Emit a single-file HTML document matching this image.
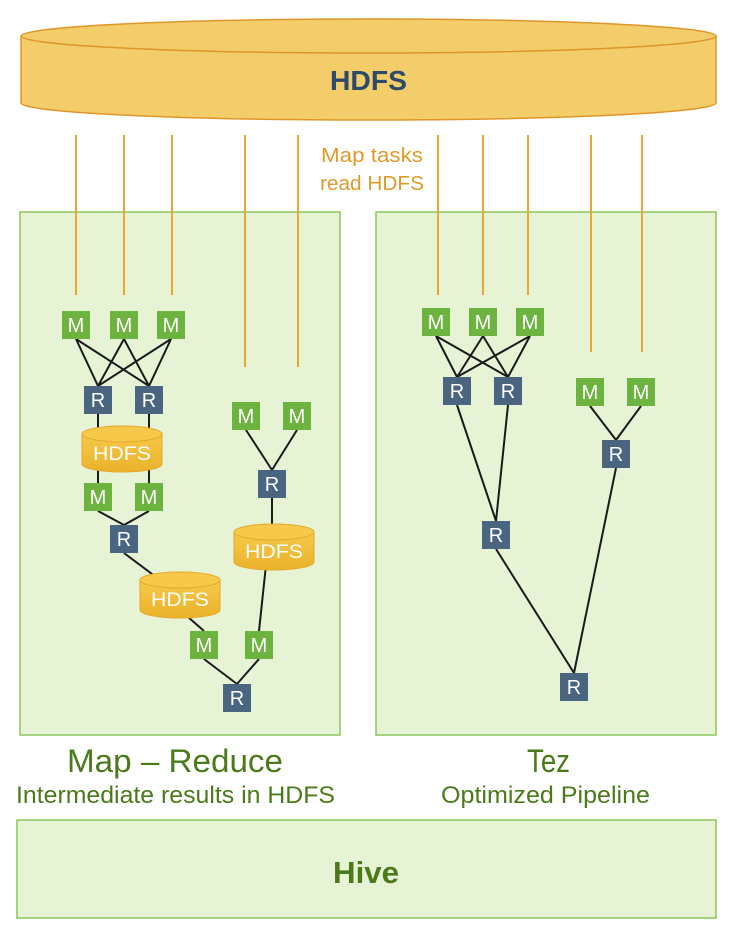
<!DOCTYPE html>
<html><head><meta charset="utf-8"><style>body{margin:0;background:#fff}svg{display:block}text{font-family:"Liberation Sans",sans-serif}</style></head><body>
<svg width="731" height="934" viewBox="0 0 731 934" xmlns="http://www.w3.org/2000/svg">
<defs>
<linearGradient id="cy" x1="0" y1="0" x2="0" y2="1"><stop offset="0" stop-color="#f6c94a"/><stop offset="1" stop-color="#eab22a"/></linearGradient>
</defs>
<path d="M21 36 L21 103 A347.5 17 0 0 0 716 103 L716 36 Z" fill="#f2cd6a" stroke="#e0952a" stroke-width="1.5"/>
<ellipse cx="368.5" cy="36" rx="347.5" ry="17" fill="#f2cd6a" stroke="#e0952a" stroke-width="1.5"/>
<text x="330" y="90" font-size="28" font-weight="bold" fill="#2e4a6b" textLength="77" lengthAdjust="spacingAndGlyphs">HDFS</text>
<rect x="20" y="212" width="320" height="523" fill="#e6f3d4" stroke="#8cc65a" stroke-width="1.5"/>
<rect x="376" y="212" width="340" height="523" fill="#e6f3d4" stroke="#8cc65a" stroke-width="1.5"/>
<rect x="17" y="820" width="699" height="98" fill="#e6f3d4" stroke="#8cc65a" stroke-width="1.5"/>
<g stroke="#e8a832" stroke-width="2">
<line x1="76" y1="135" x2="76" y2="295"/><line x1="124" y1="135" x2="124" y2="295"/><line x1="172" y1="135" x2="172" y2="295"/>
<line x1="245" y1="135" x2="245" y2="367"/><line x1="298" y1="135" x2="298" y2="367"/>
<line x1="438" y1="135" x2="438" y2="295"/><line x1="483" y1="135" x2="483" y2="295"/><line x1="528" y1="135" x2="528" y2="295"/>
<line x1="591" y1="135" x2="591" y2="352"/><line x1="642" y1="135" x2="642" y2="352"/>
</g>
<text x="321" y="162" font-size="20" fill="#e09a2a" textLength="102" lengthAdjust="spacingAndGlyphs">Map tasks</text>
<text x="320" y="190" font-size="20" fill="#e09a2a" textLength="104" lengthAdjust="spacingAndGlyphs">read HDFS</text>
<g stroke="#1a1a1a" stroke-width="2" fill="none">
<path d="M76 339L98 386M76 339L149 386M124 339L98 386M124 339L149 386M171 339L98 386M171 339L149 386"/>
<path d="M98 414V483M149 414V483M98 511L124 525M149 511L124 525M124 553L160 580M180 610L204 631M204 659L237 684M259 659L237 684M259 631L266 565M272 498V530M246 430L272 470M297 430L272 470"/>
<path d="M436 336L457 377M436 336L508 377M483 336L457 377M483 336L508 377M530 336L457 377M530 336L508 377"/>
<path d="M457 405L496 521M508 405L496 521M496 549L574 673M616 468L574 673M590 406L616 440M641 406L616 440"/>
</g>
<g>
<path d="M82 434V464A40 8 0 0 0 162 464V434Z" fill="url(#cy)" stroke="#e6a82a"/>
<ellipse cx="122" cy="434" rx="40" ry="8" fill="#f6c94a" stroke="#e6a82a"/>
<text x="93" y="460" font-size="19" fill="#fff" textLength="58" lengthAdjust="spacingAndGlyphs">HDFS</text>
<path d="M140 580V610A40 8 0 0 0 220 610V580Z" fill="url(#cy)" stroke="#e6a82a"/>
<ellipse cx="180" cy="580" rx="40" ry="8" fill="#f6c94a" stroke="#e6a82a"/>
<text x="151" y="606" font-size="19" fill="#fff" textLength="58" lengthAdjust="spacingAndGlyphs">HDFS</text>
<path d="M234 532V562A40 8 0 0 0 314 562V532Z" fill="url(#cy)" stroke="#e6a82a"/>
<ellipse cx="274" cy="532" rx="40" ry="8" fill="#f6c94a" stroke="#e6a82a"/>
<text x="245" y="558" font-size="19" fill="#fff" textLength="58" lengthAdjust="spacingAndGlyphs">HDFS</text>
</g>
<g fill="#6db33f">
<rect x="62" y="311" width="28" height="28"/><rect x="110" y="311" width="28" height="28"/><rect x="157" y="311" width="28" height="28"/>
<rect x="84" y="483" width="28" height="28"/><rect x="135" y="483" width="28" height="28"/>
<rect x="190" y="631" width="28" height="28"/><rect x="245" y="631" width="28" height="28"/>
<rect x="232" y="402" width="28" height="28"/><rect x="283" y="402" width="28" height="28"/>
<rect x="422" y="308" width="28" height="28"/><rect x="469" y="308" width="28" height="28"/><rect x="516" y="308" width="28" height="28"/>
<rect x="576" y="378" width="28" height="28"/><rect x="627" y="378" width="28" height="28"/>
</g>
<g fill="#4a6580">
<rect x="84" y="386" width="28" height="28"/><rect x="135" y="386" width="28" height="28"/>
<rect x="110" y="525" width="28" height="28"/><rect x="223" y="684" width="28" height="28"/>
<rect x="258" y="470" width="28" height="28"/>
<rect x="443" y="377" width="28" height="28"/><rect x="494" y="377" width="28" height="28"/>
<rect x="602" y="440" width="28" height="28"/><rect x="482" y="521" width="28" height="28"/><rect x="560" y="673" width="28" height="28"/>
</g>
<g font-size="20" fill="#fff" text-anchor="middle">
<text x="76" y="332">M</text><text x="124" y="332">M</text><text x="171" y="332">M</text>
<text x="98" y="504">M</text><text x="149" y="504">M</text>
<text x="204" y="652">M</text><text x="259" y="652">M</text>
<text x="246" y="423">M</text><text x="297" y="423">M</text>
<text x="436" y="329">M</text><text x="483" y="329">M</text><text x="530" y="329">M</text>
<text x="590" y="399">M</text><text x="641" y="399">M</text>
<text x="98" y="407">R</text><text x="149" y="407">R</text><text x="124" y="546">R</text><text x="237" y="705">R</text><text x="272" y="491">R</text>
<text x="457" y="398">R</text><text x="508" y="398">R</text><text x="616" y="461">R</text><text x="496" y="542">R</text><text x="574" y="694">R</text>
</g>
<text x="67" y="772" font-size="32" fill="#4a7a1a" textLength="216" lengthAdjust="spacingAndGlyphs">Map – Reduce</text>
<text x="16" y="803" font-size="24" fill="#4a7a1a" textLength="319" lengthAdjust="spacingAndGlyphs">Intermediate results in HDFS</text>
<text x="527" y="772" font-size="32" fill="#4a7a1a" textLength="43" lengthAdjust="spacingAndGlyphs">Tez</text>
<text x="441" y="803" font-size="24" fill="#4a7a1a" textLength="209" lengthAdjust="spacingAndGlyphs">Optimized Pipeline</text>
<text x="333" y="883" font-size="31" font-weight="bold" fill="#4a7a1a" textLength="66" lengthAdjust="spacingAndGlyphs">Hive</text>
</svg>
</body></html>
